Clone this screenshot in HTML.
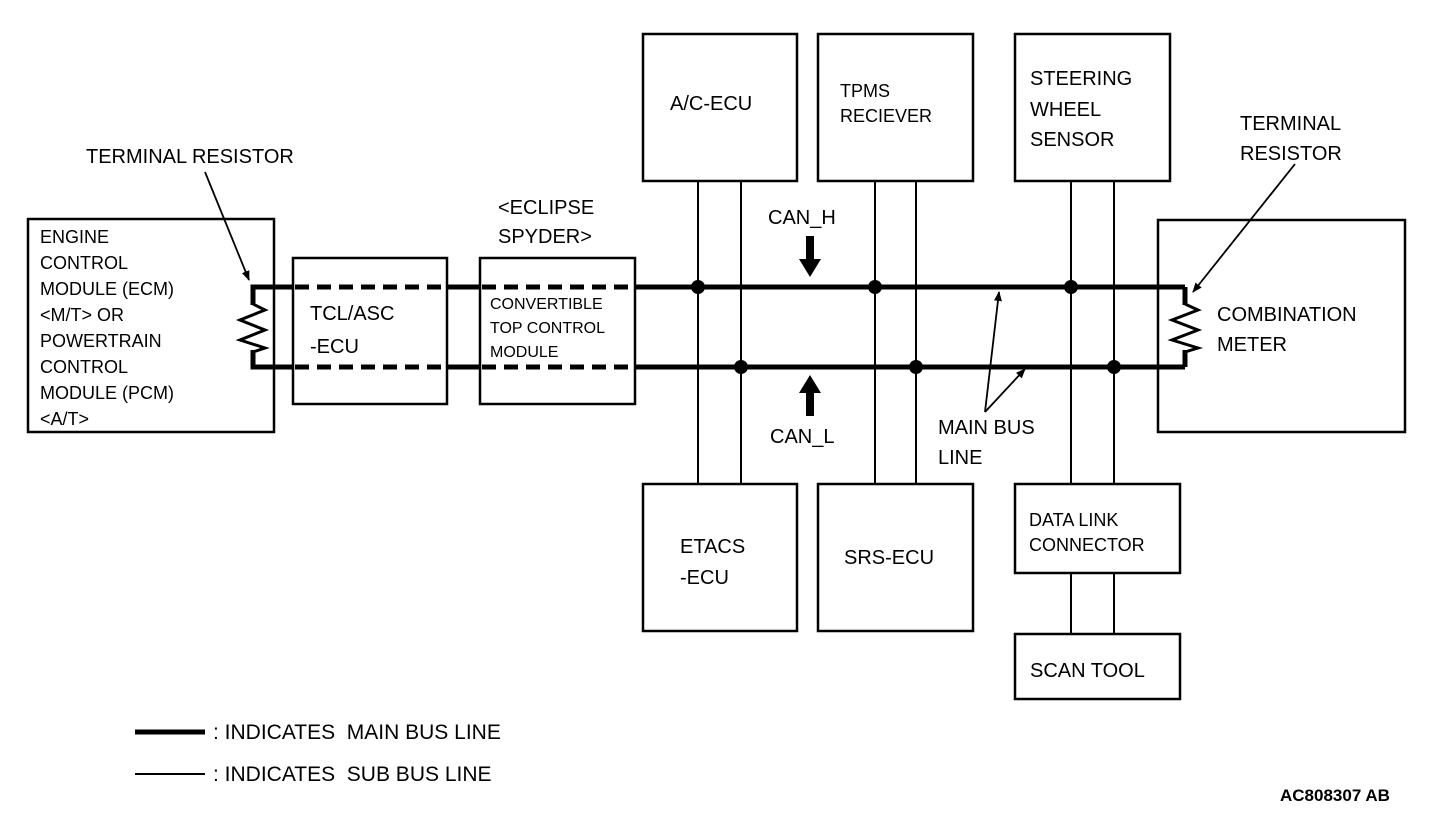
<!DOCTYPE html>
<html><head><meta charset="utf-8"><style>
html,body{margin:0;padding:0;background:#fff;}
svg{display:block;}
text{font-family:"Liberation Sans",Arial,sans-serif;fill:#000;white-space:pre;}
</style></head><body>
<svg width="1456" height="816" viewBox="0 0 1456 816" xmlns="http://www.w3.org/2000/svg" xml:space="preserve">
<defs>
<marker id="ah" markerWidth="10" markerHeight="10" refX="9" refY="5" orient="auto" markerUnits="userSpaceOnUse">
<path d="M0,1 L10,5 L0,9 z" fill="#000"/></marker>
</defs>
<g fill="none" stroke="#000" stroke-width="2.5">
<rect x="28" y="219" width="246" height="213"/>
<rect x="293" y="258" width="154" height="146"/>
<rect x="480" y="258" width="155" height="146"/>
<rect x="643" y="34" width="154" height="147"/>
<rect x="818" y="34" width="155" height="147"/>
<rect x="1015" y="34" width="155" height="147"/>
<rect x="1158" y="220" width="247" height="212"/>
<rect x="643" y="484" width="154" height="147"/>
<rect x="818" y="484" width="155" height="147"/>
<rect x="1015" y="484" width="165" height="89"/>
<rect x="1015" y="634" width="165" height="65"/>
</g>
<g stroke="#000" stroke-width="2">
<line x1="698" y1="181" x2="698" y2="484"/>
<line x1="741" y1="181" x2="741" y2="484"/>
<line x1="875" y1="181" x2="875" y2="484"/>
<line x1="916" y1="181" x2="916" y2="484"/>
<line x1="1071" y1="181" x2="1071" y2="484"/>
<line x1="1114" y1="181" x2="1114" y2="484"/>
<line x1="1071" y1="573" x2="1071" y2="634"/>
<line x1="1114" y1="573" x2="1114" y2="634"/>
</g>
<g fill="none" stroke="#000" stroke-width="5">
<path d="M253,305 L253,287 L293,287"/>
<path d="M253,350 L253,367 L293,367"/>
<line x1="447" y1="287" x2="480" y2="287"/>
<line x1="447" y1="367" x2="480" y2="367"/>
<line x1="635" y1="287" x2="1185" y2="287"/>
<line x1="635" y1="367" x2="1185" y2="367"/>
<path d="M1185,287 L1185,305"/>
<path d="M1185,350 L1185,367"/>
</g>
<g fill="none" stroke="#000" stroke-width="5" stroke-dasharray="14,8">
<line x1="295" y1="287" x2="447" y2="287"/>
<line x1="295" y1="367" x2="447" y2="367"/>
<line x1="482" y1="287" x2="635" y2="287"/>
<line x1="482" y1="367" x2="635" y2="367"/>
</g>
<g fill="none" stroke="#000" stroke-width="3">
<path d="M253,304 L265,310 L240,320 L265,330 L240,340 L265,348 L253,352"/>
<path d="M1185,304 L1198,310 L1172,320 L1198,330 L1172,340 L1198,348 L1185,352"/>
</g>
<g fill="#000">
<circle cx="698" cy="287" r="7"/>
<circle cx="875" cy="287" r="7"/>
<circle cx="1071" cy="287" r="7"/>
<circle cx="741" cy="367" r="7"/>
<circle cx="916" cy="367" r="7"/>
<circle cx="1114" cy="367" r="7"/>
<path d="M806,236 L814,236 L814,259 L821,259 L810,277 L799,259 L806,259 z"/>
<path d="M806,416 L814,416 L814,393 L821,393 L810,375 L799,393 L806,393 z"/>
</g>
<g stroke="#000" stroke-width="1.8" fill="none">
<line x1="205" y1="172" x2="249" y2="280" marker-end="url(#ah)"/>
<line x1="1295" y1="164" x2="1193" y2="292" marker-end="url(#ah)"/>
<line x1="985" y1="412" x2="999" y2="292" marker-end="url(#ah)"/>
<line x1="985" y1="412" x2="1025" y2="369" marker-end="url(#ah)"/>
</g>
<g font-size="20">
<text x="86" y="163">TERMINAL RESISTOR</text>
<text x="1240" y="130">TERMINAL</text>
<text x="1240" y="160">RESISTOR</text>
<text x="670" y="110">A/C-ECU</text>
<text x="1030" y="85">STEERING</text>
<text x="1030" y="116">WHEEL</text>
<text x="1030" y="146">SENSOR</text>
<text x="310" y="320">TCL/ASC</text>
<text x="310" y="353">-ECU</text>
<text x="498" y="214">&lt;ECLIPSE</text>
<text x="498" y="243">SPYDER&gt;</text>
<text x="768" y="224">CAN_H</text>
<text x="770" y="443">CAN_L</text>
<text x="938" y="434">MAIN BUS</text>
<text x="938" y="464">LINE</text>
<text x="1217" y="321">COMBINATION</text>
<text x="1217" y="351">METER</text>
<text x="680" y="553">ETACS</text>
<text x="680" y="584">-ECU</text>
<text x="844" y="564">SRS-ECU</text>
<text x="1030" y="677">SCAN TOOL</text>
<text x="213" y="739" font-size="21">: INDICATES  MAIN BUS LINE</text>
<text x="213" y="781" font-size="21">: INDICATES  SUB BUS LINE</text>
</g>
<g font-size="18">
<text x="840" y="97">TPMS</text>
<text x="840" y="122">RECIEVER</text>
<text x="1029" y="526">DATA LINK</text>
<text x="1029" y="551">CONNECTOR</text>
<text x="40" y="243">ENGINE</text>
<text x="40" y="269">CONTROL</text>
<text x="40" y="295">MODULE (ECM)</text>
<text x="40" y="321">&lt;M/T&gt; OR</text>
<text x="40" y="347">POWERTRAIN</text>
<text x="40" y="373">CONTROL</text>
<text x="40" y="399">MODULE (PCM)</text>
<text x="40" y="425">&lt;A/T&gt;</text>
</g>
<g font-size="16">
<text x="490" y="309">CONVERTIBLE</text>
<text x="490" y="333">TOP CONTROL</text>
<text x="490" y="357">MODULE</text>
</g>
<line x1="135" y1="732" x2="205" y2="732" stroke="#000" stroke-width="5"/>
<line x1="135" y1="774" x2="205" y2="774" stroke="#000" stroke-width="2"/>
<text x="1280" y="801" font-size="17" font-weight="bold">AC808307 AB</text>
</svg>
</body></html>
